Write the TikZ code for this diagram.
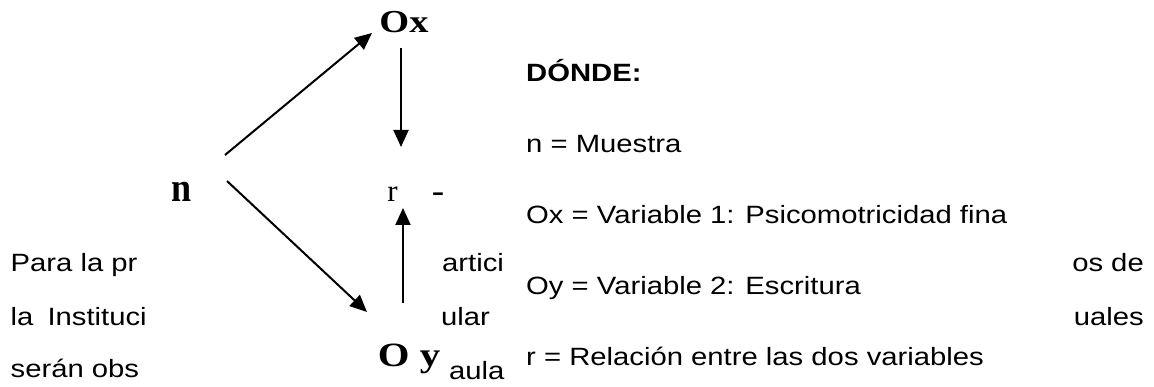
\documentclass[tikz,border=0pt]{standalone}
\usepackage{fontspec}
\setmainfont{Liberation Sans}[FakeStretch=1.17]
\newfontfamily\tnr{Liberation Serif}[FakeStretch=1.2]
\newfontfamily\tnrn{Liberation Serif}[FakeStretch=0.88]
\newfontfamily\tnrr{Liberation Serif}
\usetikzlibrary{arrows.meta}

\begin{document}
\begin{tikzpicture}[x=1pt,y=1pt]
  \tikzstyle{every node}=[inner sep=0pt, font=\fontsize{25}{29}\selectfont]
  \tikzstyle{flecha}=[line width=2pt, -{Triangle[length=17pt,width=15pt]}]
  \tikzstyle{txt}=[anchor=base west]
  \useasboundingbox (0,0) rectangle (1154,387);
  % the paragraph behind the figure
  \node (P1)[txt] at (10.5,115) {Para la pr};
  \node (P2)[txt] at (10.5,61) {la\hspace{6pt} Instituci};
  \node (P3)[txt] at (10.5,9) {serán obs};
  \node (Q1)[txt] at (442,115) {artici};
  \node (Q2)[txt] at (441,61) {ular};
  \node (Q3)[txt] at (449,7) {aula};
  \node (S1)[anchor=base east] at (1144,115) {os de};
  \node (S2)[anchor=base east] at (1144,61) {uales};
  % design
  \node (N)[anchor=base] at (182,185) {\tnrn\fontsize{41}{41}\selectfont\bfseries n};
  \node (Ox)[anchor=base] at (404,354) {\tnr\fontsize{32}{32}\selectfont\bfseries Ox};
  \node (R)[anchor=base] at (392.5,185) {\tnrr\fontsize{31}{31}\selectfont r};
  \node (Guion)[anchor=base] at (438,185) {\tnr\fontsize{31}{31}\selectfont\bfseries -};
  \node (Oy)[anchor=base] at (409,20) {\tnr\fontsize{34}{34}\selectfont\bfseries O y};
  \draw[flecha] ([shift={(43,47)}]N.base) -- ([shift={(-32,0)}]Ox.base);
  \draw[flecha] ([shift={(45,21)}]N.base) -- ([shift={(-42,55)}]Oy.base);
  \draw[flecha] ([shift={(-3,-15)}]Ox.base) -- ([shift={(8.5,55)}]R.base);
  \draw[flecha] ([shift={(-6,64)}]Oy.base) -- ([shift={(10.5,-6)}]R.base);
  % legend
  \node (Donde)[txt] at (526,305) {\bfseries DÓNDE:};
  \node (L1)[txt] at (526,234) {n = Muestra};
  \node (L2)[txt] at (526,163) {Ox = Variable 1: Psicomotricidad fina};
  \node (L3)[txt] at (526,92) {Oy = Variable 2: Escritura};
  \node (L4)[txt] at (526,21) {r = Relación entre las dos variables};
\end{tikzpicture}
\end{document}
